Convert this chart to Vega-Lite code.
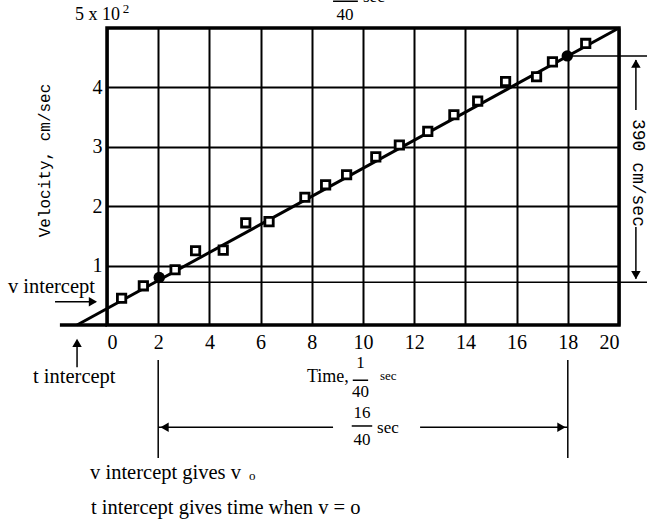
{
  "$schema": "https://vega.github.io/schema/vega-lite/v6.json",
  "autosize": {"type": "none"},
  "padding": {"left": 107, "top": 28, "right": 28, "bottom": 195},
  "width": 512,
  "height": 297,
  "background": "white",
  "config": {
    "view": {"stroke": "black", "strokeWidth": 3.5},
    "font": "Liberation Serif",
    "axis": {"labelFont": "Liberation Serif", "titleFont": "Liberation Mono", "labelColor": "black", "titleColor": "black", "gridColor": "black", "gridOpacity": 1, "gridWidth": 2, "domain": false, "ticks": false}
  },
  "datasets": {
    "obs": [
      {"t": 0.57, "v": 0.45}, {"t": 1.42, "v": 0.66}, {"t": 2.66, "v": 0.93}, {"t": 3.46, "v": 1.25},
      {"t": 4.54, "v": 1.26}, {"t": 5.42, "v": 1.72}, {"t": 6.33, "v": 1.74}, {"t": 7.73, "v": 2.15},
      {"t": 8.54, "v": 2.36}, {"t": 9.36, "v": 2.53}, {"t": 10.5, "v": 2.83}, {"t": 11.42, "v": 3.03},
      {"t": 12.53, "v": 3.26}, {"t": 13.55, "v": 3.54}, {"t": 14.48, "v": 3.77}, {"t": 15.57, "v": 4.1},
      {"t": 16.78, "v": 4.18}, {"t": 17.4, "v": 4.43}, {"t": 18.7, "v": 4.74}
    ],
    "chosen": [{"t": 2.04, "v": 0.8}, {"t": 17.98, "v": 4.53}],
    "fit": [{"t": -1.17, "v": 0}, {"t": 20, "v": 5}],
    "thin": [
      {"t": 2, "t2": 21.1, "v": 0.72, "v2": 0.72},
      {"t": 17.98, "t2": 21.1, "v": 4.53, "v2": 4.53},
      {"t": 2, "t2": 2, "v": -0.59, "v2": -2.24},
      {"t": 18, "t2": 18, "v": -0.59, "v2": -2.24},
      {"t": 2, "t2": 8.83, "v": -1.72, "v2": -1.72},
      {"t": 12.23, "t2": 18, "v": -1.72, "v2": -1.72},
      {"t": 20.66, "t2": 20.66, "v": 3.62, "v2": 4.46},
      {"t": 20.66, "t2": 20.66, "v": 1.65, "v2": 0.78},
      {"t": -2.03, "t2": -0.45, "v": 0.39, "v2": 0.39},
      {"t": -1.17, "t2": -1.17, "v": -0.71, "v2": -0.27},
      {"t": 9.6, "t2": 10.2, "v": -0.93, "v2": -0.93},
      {"t": 9.56, "t2": 10.36, "v": -1.7, "v2": -1.7},
      {"t": 8.83, "t2": 9.8, "v": 5.45, "v2": 5.45}
    ],
    "thick": [{"t": -1.84, "t2": 0, "v": 0, "v2": 0}],
    "heads": [
      {"t": 20.66, "v": 4.4, "dir": "up"},
      {"t": 20.66, "v": 0.84, "dir": "down"},
      {"t": 2.25, "v": -1.72, "dir": "left"},
      {"t": 17.75, "v": -1.72, "dir": "right"},
      {"t": -0.55, "v": 0.39, "dir": "right"},
      {"t": -1.17, "v": -0.3, "dir": "up"}
    ],
    "labels18": [
      {"t": -3.87, "v": 0.64, "txt": "v intercept"},
      {"t": -2.89, "v": -0.875, "txt": "t intercept"},
      {"t": -0.66, "v": -2.49, "txt": "v intercept gives v"},
      {"t": -0.625, "v": -3.08, "txt": "t intercept gives time when v = o"}
    ],
    "labelsTop": [
      {"t": -1.25, "v": 5.22, "txt": "5 x 10"},
      {"t": 7.81, "v": -0.875, "txt": "Time,"}
    ],
    "labelsMid": [
      {"t": 9.3, "v": 5.22, "txt": "40"},
      {"t": 9.9, "v": -0.64, "txt": "1"},
      {"t": 9.9, "v": -1.13, "txt": "40"},
      {"t": 9.96, "v": -1.48, "txt": "16"},
      {"t": 9.96, "v": -1.94, "txt": "40"}
    ],
    "labelsSmall": [
      {"t": 10.66, "v": -0.86, "txt": "sec"},
      {"t": 0.62, "v": 5.32, "txt": "2"},
      {"t": 5.55, "v": -2.55, "txt": "o"}
    ],
    "labelsSec": [
      {"t": 10.55, "v": -1.73, "txt": "sec"},
      {"t": 10.0, "v": 5.52, "txt": "sec"}
    ],
    "rot": [{"t": 20.74, "v": 2.56, "txt": "390 cm/sec"}]
  },
  "layer": [
    {
      "data": {"values": [{"t": 10, "v": 2}]},
      "mark": {"type": "point", "opacity": 0},
      "encoding": {
        "x": {"field": "t", "type": "quantitative", "scale": {"domain": [0, 20], "nice": false, "zero": false},
              "axis": {"values": [0, 2, 4, 6, 8, 10, 12, 14, 16, 18, 20], "format": "d", "title": null, "labelFontSize": 20, "labelPadding": 7}},
        "y": {"field": "v", "type": "quantitative", "scale": {"domain": [0, 5], "nice": false, "zero": false},
              "axis": {"values": [1, 2, 3, 4], "format": "d", "title": "Velocity, cm/sec", "titleFontSize": 16, "titleFontWeight": "normal", "titleX": -55, "titleY": 132, "labelFontSize": 20, "labelPadding": 5}}
      }
    },
    {
      "data": {"name": "fit"},
      "mark": {"type": "line", "color": "black", "strokeWidth": 3},
      "encoding": {"x": {"field": "t", "type": "quantitative"}, "y": {"field": "v", "type": "quantitative"}}
    },
    {
      "data": {"name": "thin"},
      "mark": {"type": "rule", "color": "black", "strokeWidth": 1.5},
      "encoding": {"x": {"field": "t", "type": "quantitative"}, "x2": {"field": "t2"}, "y": {"field": "v", "type": "quantitative"}, "y2": {"field": "v2"}}
    },
    {
      "data": {"name": "thick"},
      "mark": {"type": "rule", "color": "black", "strokeWidth": 3.5},
      "encoding": {"x": {"field": "t", "type": "quantitative"}, "x2": {"field": "t2"}, "y": {"field": "v", "type": "quantitative"}, "y2": {"field": "v2"}}
    },
    {
      "data": {"name": "heads"},
      "mark": {"type": "point", "filled": true, "color": "black", "opacity": 1, "size": 90},
      "encoding": {
        "x": {"field": "t", "type": "quantitative"}, "y": {"field": "v", "type": "quantitative"},
        "shape": {"field": "dir", "type": "nominal", "legend": null,
                  "scale": {"domain": ["up", "down", "left", "right"], "range": ["triangle-up", "triangle-down", "triangle-left", "triangle-right"]}}
      }
    },
    {
      "data": {"name": "obs"},
      "mark": {"type": "point", "shape": "square", "filled": true, "fill": "white", "stroke": "black", "strokeWidth": 2.8, "size": 70, "opacity": 1},
      "encoding": {"x": {"field": "t", "type": "quantitative"}, "y": {"field": "v", "type": "quantitative"}}
    },
    {
      "data": {"name": "chosen"},
      "mark": {"type": "point", "shape": "circle", "filled": true, "color": "black", "size": 130, "opacity": 1},
      "encoding": {"x": {"field": "t", "type": "quantitative"}, "y": {"field": "v", "type": "quantitative"}}
    },
    {
      "data": {"name": "labels18"},
      "mark": {"type": "text", "align": "left", "baseline": "middle", "fontSize": 20.5, "font": "Liberation Serif", "color": "black"},
      "encoding": {"x": {"field": "t", "type": "quantitative"}, "y": {"field": "v", "type": "quantitative"}, "text": {"field": "txt"}}
    },
    {
      "data": {"name": "labelsTop"},
      "mark": {"type": "text", "align": "left", "baseline": "middle", "fontSize": 18, "font": "Liberation Serif", "color": "black"},
      "encoding": {"x": {"field": "t", "type": "quantitative"}, "y": {"field": "v", "type": "quantitative"}, "text": {"field": "txt"}}
    },
    {
      "data": {"name": "labelsMid"},
      "mark": {"type": "text", "align": "center", "baseline": "middle", "fontSize": 17, "font": "Liberation Serif", "color": "black"},
      "encoding": {"x": {"field": "t", "type": "quantitative"}, "y": {"field": "v", "type": "quantitative"}, "text": {"field": "txt"}}
    },
    {
      "data": {"name": "labelsSmall"},
      "mark": {"type": "text", "align": "left", "baseline": "middle", "fontSize": 13, "font": "Liberation Serif", "color": "black"},
      "encoding": {"x": {"field": "t", "type": "quantitative"}, "y": {"field": "v", "type": "quantitative"}, "text": {"field": "txt"}}
    },
    {
      "data": {"name": "labelsSec"},
      "mark": {"type": "text", "align": "left", "baseline": "middle", "fontSize": 17, "font": "Liberation Serif", "color": "black"},
      "encoding": {"x": {"field": "t", "type": "quantitative"}, "y": {"field": "v", "type": "quantitative"}, "text": {"field": "txt"}}
    },
    {
      "data": {"name": "rot"},
      "mark": {"type": "text", "align": "center", "baseline": "middle", "fontSize": 18, "font": "Liberation Mono", "color": "black", "angle": 90},
      "encoding": {"x": {"field": "t", "type": "quantitative"}, "y": {"field": "v", "type": "quantitative"}, "text": {"field": "txt"}}
    }
  ]
}
